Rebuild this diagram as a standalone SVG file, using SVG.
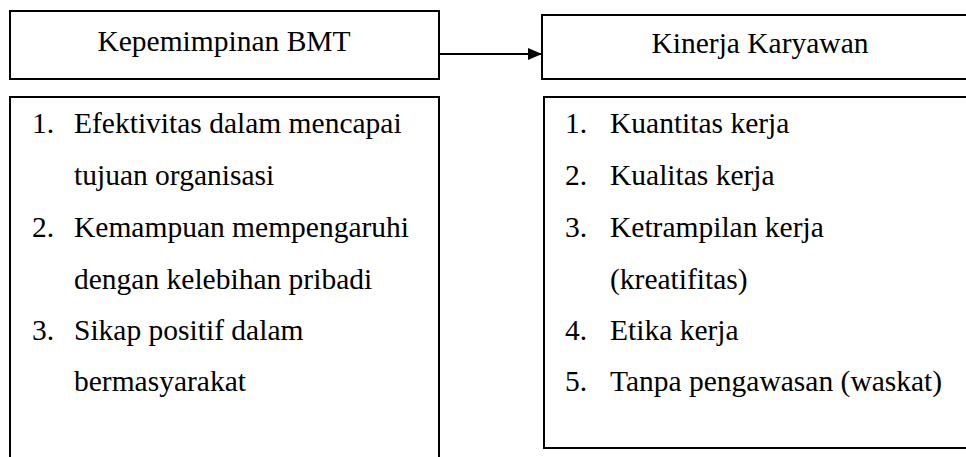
<svg xmlns="http://www.w3.org/2000/svg" width="966" height="457" viewBox="0 0 966 457">
<style>
.box{fill:#fff;stroke:#000;stroke-width:2}
.t{font-size:29.5px;fill:#000}
.c{text-anchor:middle}
.conn{stroke:#000;stroke-width:2;fill:none}
</style>
<defs>
<marker id="ah" markerWidth="14" markerHeight="12" refX="14" refY="6" orient="auto" markerUnits="userSpaceOnUse">
<path d="M0,0 L14,6 L0,12 Z" fill="#000"/>
</marker>
</defs>
<rect width="966" height="457" fill="#fff"/>
<g font-family="'Liberation Serif', Tinos, 'DejaVu Serif', serif">
<g id="kepemimpinan">
<rect class="box" x="10" y="11" width="429" height="68"/>
<text class="t c" x="224" y="51">Kepemimpinan BMT</text>
</g>
<g id="kepemimpinan-indikator">
<rect class="box" x="10" y="97" width="429" height="380"/>
<text class="t" x="32" y="133">1.</text>
<text class="t" x="74" y="133">Efektivitas dalam mencapai</text>
<text class="t" x="74" y="185">tujuan organisasi</text>
<text class="t" x="32" y="237">2.</text>
<text class="t" x="74" y="237">Kemampuan mempengaruhi</text>
<text class="t" x="74" y="289">dengan kelebihan pribadi</text>
<text class="t" x="32" y="340">3.</text>
<text class="t" x="74" y="340">Sikap positif dalam</text>
<text class="t" x="74" y="391">bermasyarakat</text>
</g>
<g id="kinerja">
<rect class="box" x="542" y="15" width="440" height="64"/>
<text class="t c" x="760" y="53">Kinerja Karyawan</text>
</g>
<g id="kinerja-indikator">
<rect class="box" x="544" y="97" width="440" height="351"/>
<text class="t" x="565" y="133">1.</text>
<text class="t" x="610" y="133">Kuantitas kerja</text>
<text class="t" x="565" y="185">2.</text>
<text class="t" x="610" y="185">Kualitas kerja</text>
<text class="t" x="565" y="237">3.</text>
<text class="t" x="610" y="237">Ketrampilan kerja</text>
<text class="t" x="610" y="289">(kreatifitas)</text>
<text class="t" x="565" y="340">4.</text>
<text class="t" x="610" y="340">Etika kerja</text>
<text class="t" x="565" y="391">5.</text>
<text class="t" x="610" y="391">Tanpa pengawasan (waskat)</text>
</g>
</g>
<g id="connectors">
<line class="conn" x1="439" y1="54" x2="542" y2="54" marker-end="url(#ah)"/>
</g>
</svg>
